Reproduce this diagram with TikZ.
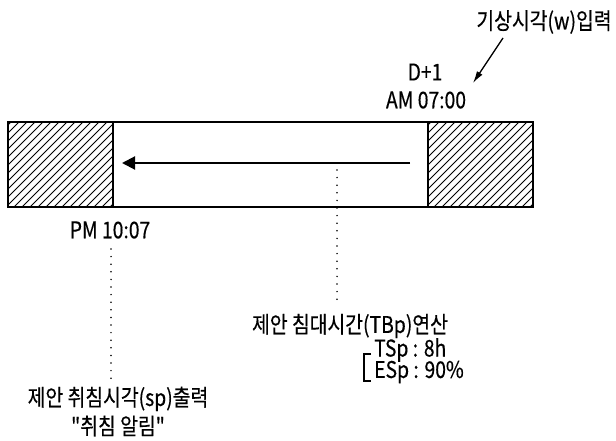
\documentclass[tikz,border=0pt]{standalone}
\usepackage{fontspec}
\newfontfamily\kfont{Noto Sans CJK KR}[FakeStretch=0.84, FakeBold=0.4]
\usetikzlibrary{arrows.meta}
\tikzset{
  txt/.style={inner sep=0pt, font=\kfont\fontsize{23}{25}\selectfont},
  boxline/.style={line width=1.5pt},
  hatch/.style={line width=0.8pt},
  dotline/.style={line width=1.7pt, line cap=round, dash pattern=on 0pt off 7.6pt},
  bigarrow/.style={line width=2pt, -{Triangle[length=13pt,width=13pt]}},
  ptr/.style={line width=1.3pt, -{Latex[length=12pt,width=6.5pt]}},
  brk/.style={line width=1.3pt}
}
\begin{document}
\begin{tikzpicture}[x=1pt,y=-1pt]
\useasboundingbox (0,0) rectangle (616,441);
% hatched ends
\begin{scope}
  \clip (8,122) rectangle (113,207);
  \foreach \i in {-90,-82,...,110} \draw[hatch] (8+\i,207) -- ++(90,-90);
\end{scope}
\begin{scope}
  \clip (428,122) rectangle (533,207);
  \foreach \i in {-90,-82,...,110} \draw[hatch] (428+\i,207) -- ++(90,-90);
\end{scope}
\draw[boxline] (8,122) rectangle (533,207);
\draw[boxline] (113,122) -- (113,207);
\draw[boxline] (428,122) -- (428,207);
% arrow inside bar
\coordinate (arrR) at (410,163);
\coordinate (arrL) at (122,163);
\draw[bigarrow] (arrR) -- (arrL);
% texts
\node[txt] (wake) at (544,22) {기상시각(w)입력};
\node[txt] (d1) at (425,72) {D+1};
\node[txt] (am) at (426,100) {AM 07:00};
\node[txt] (pm) at (110,230) {PM 10:07};
\node[txt] (calc) at (350,326) {제안 침대시간(TBp)연산};
\node[txt] (out) at (118,399) {제안 취침시각(sp)출력};
\node[txt] (alarm) at (118,426) {"취침 알림"};
\node[txt, anchor=west] (tsp) at (374,350) {TSp : 8h};
\node[txt, anchor=west] (esp) at (374,372) {ESp : 90\%};
% pointer arrow
\coordinate (ptrS) at (503,38);
\coordinate (ptrE) at (473,83);
\draw[ptr] (ptrS) -- (ptrE);
% dotted connectors
\coordinate (c1s) at (337,170);
\coordinate (c1e) at (337,303);
\draw[dotline] (c1s) -- (c1e);
\coordinate (c2s) at (111,249);
\coordinate (c2e) at (111,383);
\draw[dotline] (c2s) -- (c2e);
% bracket
\coordinate (b1) at (371,354);
\coordinate (b2) at (364,354);
\coordinate (b3) at (364,381);
\coordinate (b4) at (371,381);
\draw[brk] (b1) -- (b2) -- (b3) -- (b4);
\end{tikzpicture}
\end{document}
